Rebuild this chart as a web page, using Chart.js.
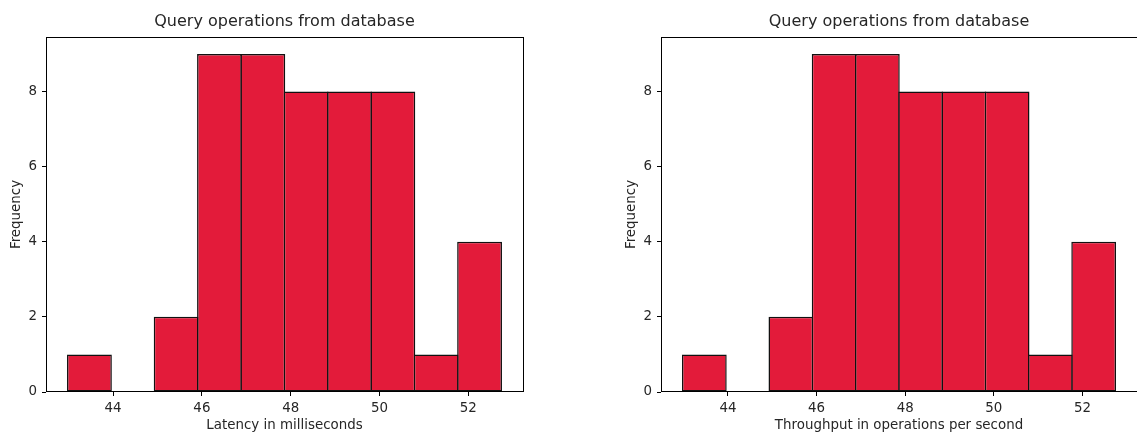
<!DOCTYPE html>
<html><head><meta charset="utf-8">
<script src="https://cdn.jsdelivr.net/npm/chart.js@4/dist/chart.umd.min.js"></script>
<style>
html,body{margin:0;padding:0;background:#fff;width:1137px;height:436px;overflow:hidden}
canvas{position:absolute;top:0}
</style></head><body>
<canvas id="c1" width="568" height="436" style="left:0;width:568px;height:436px"></canvas>
<canvas id="c2" width="569" height="436" style="left:568px;width:569px;height:436px"></canvas>
<script>
const chartTitle = 'Query operations from database';
const xLabelLeft = 'Latency in milliseconds';
const xLabelRight = 'Throughput in operations per second';
const yLabel = 'Frequency';
const binEdges = [42.98, 43.956, 44.932, 45.908, 46.884, 47.86, 48.836, 49.812, 50.788, 51.764, 52.74];
const latencyCounts = [1, 0, 2, 9, 9, 8, 8, 8, 1, 4];
const throughputCounts = [1, 0, 2, 9, 9, 8, 8, 8, 1, 4];
const xTicks = [44, 46, 48, 50, 52];
const yTicks = [0, 2, 4, 6, 8];
const xRange = [42.49, 53.23];
const yRange = [0, 9.45];

const FONT = 'DejaVu Sans';
const TXT = '#262626';

const framePlugin = {
  id: 'frame',
  afterDatasetsDraw(chart) {
    const {ctx, chartArea: a} = chart;
    ctx.save();
    ctx.strokeStyle = '#000';
    ctx.lineWidth = 1;
    ctx.strokeRect(Math.round(a.left) + 0.5, Math.round(a.top) + 0.5,
      Math.round(a.right) - Math.round(a.left), Math.round(a.bottom) - Math.round(a.top) - 1);
    ctx.restore();
  }
};

function makeChart(id, counts, xLabel, padLeft, padRight) {
  const data = counts.map((c, i) => ({x: (binEdges[i] + binEdges[i + 1]) / 2, y: c}));
  return new Chart(document.getElementById(id), {
    type: 'bar',
    data: {
      datasets: [{
        data: data,
        backgroundColor: '#E31B3A',
        borderColor: '#111',
        borderWidth: 1.5,
        borderSkipped: false,
        barPercentage: 1.034,
        categoryPercentage: 1
      }]
    },
    options: {
      responsive: false,
      animation: false,
      devicePixelRatio: 1,
      layout: {padding: {left: padLeft, right: padRight, top: 0, bottom: 0}},
      plugins: {
        legend: {display: false},
        tooltip: {enabled: false},
        title: {
          display: true,
          fullSize: false,
          text: chartTitle,
          color: TXT,
          font: {family: FONT, size: 16, weight: 'normal', lineHeight: 1.2},
          padding: {top: 12.4, bottom: 5.4}
        }
      },
      scales: {
        x: {
          type: 'linear',
          min: xRange[0],
          max: xRange[1],
          offset: false,
          afterBuildTicks: s => { s.ticks = xTicks.map(v => ({value: v})); },
          afterFit: s => { s.height = 44; },
          ticks: {color: TXT, font: {family: FONT, size: 13.4}, padding: 4, maxRotation: 0,
                  callback: v => String(v)},
          grid: {display: true, offset: false, drawOnChartArea: false, drawTicks: true, tickLength: 4, color: '#000'},
          border: {display: false},
          title: {display: true, text: xLabel, color: TXT,
                  font: {family: FONT, size: 13.4}, padding: {top: 0, bottom: 2.5}}
        },
        y: {
          type: 'linear',
          min: yRange[0],
          max: yRange[1],
          afterBuildTicks: s => { s.ticks = yTicks.map(v => ({value: v})); },
          afterFit: s => { s.width = 46; },
          ticks: {color: TXT, font: {family: FONT, size: 13.4}, padding: 5,
                  callback: v => String(v)},
          grid: {display: true, offset: false, drawOnChartArea: false, drawTicks: true, tickLength: 4, color: '#000'},
          border: {display: false},
          title: {display: true, text: yLabel, color: TXT,
                  font: {family: FONT, size: 13.4}, padding: {top: 8.5, bottom: 0}}
        }
      }
    },
    plugins: [framePlugin]
  });
}

makeChart('c1', latencyCounts, xLabelLeft, 0, 45);
makeChart('c2', throughputCounts, xLabelRight, 47, 0);
</script>
</body></html>
